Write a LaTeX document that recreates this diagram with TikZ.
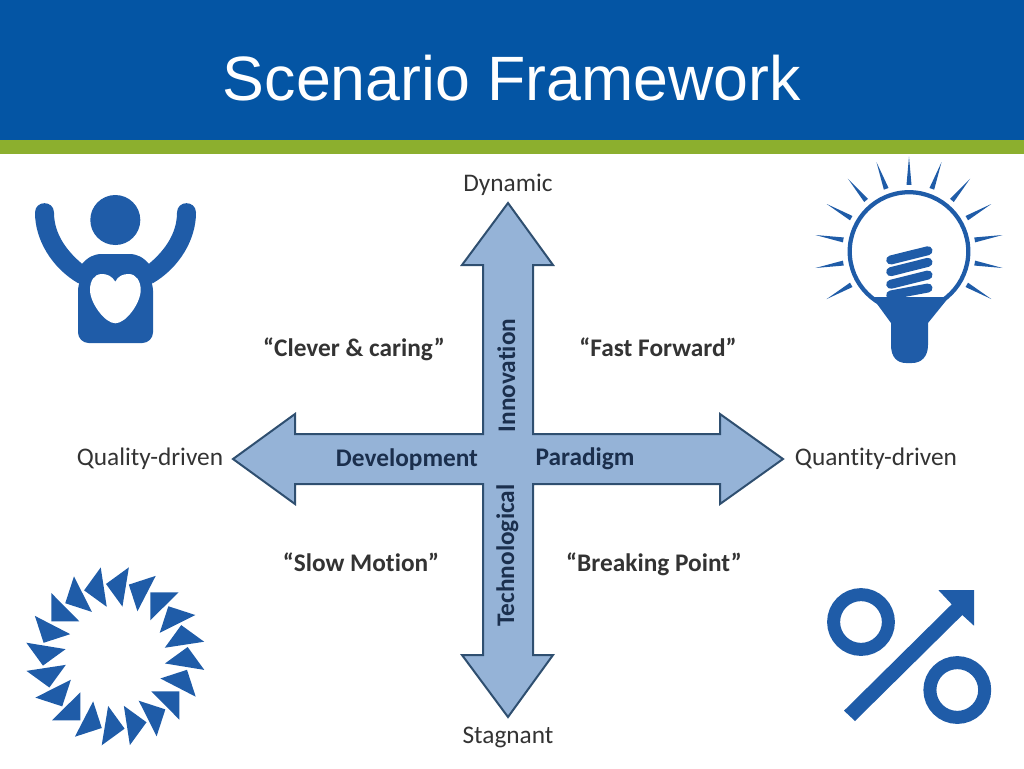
\documentclass[tikz,border=0pt]{standalone}
\usepackage{fontspec}
\setmainfont{Carlito}[Ligatures=NoCommon]
\newfontfamily\titlefont{Liberation Sans}
\definecolor{bannerblue}{HTML}{0455A4}
\definecolor{bannergreen}{HTML}{8CAF2E}
\definecolor{iconblue}{HTML}{1F5CA8}
\definecolor{crossfill}{HTML}{95B3D7}
\definecolor{crossline}{HTML}{2F4F70}
\definecolor{crosstext}{HTML}{1B2F4D}
\definecolor{labeltext}{HTML}{333333}

\begin{document}
\begin{tikzpicture}[
  x=0.75pt,
  y=-0.75pt,
  title/.style={
    font=\titlefont\fontsize{47}{56}\selectfont,
    text=white
  },
  icon/.style={fill=iconblue},
  ring/.style={
    draw=iconblue,
    line width=9.75pt
  },
  coil/.style={
    draw=iconblue,
    line width=6.75pt,
    line cap=round
  },
  cross/.style={
    draw=crossline,
    line width=1.5pt,
    fill=crossfill
  },
  pole/.style={
    anchor=base,
    inner sep=0pt,
    font=\fontsize{19}{23}\selectfont,
    text=labeltext
  },
  scenario/.style={
    anchor=base,
    inner sep=0pt,
    font=\bfseries\fontsize{19}{23}\selectfont,
    text=labeltext
  },
  axislabel/.style={
    anchor=base,
    inner sep=0pt,
    font=\bfseries\fontsize{19}{23}\selectfont,
    text=crosstext
  }
]

\useasboundingbox (0,0) rectangle (1024,768);

\fill[bannerblue] (0,0) rectangle (1024,140);
\fill[bannergreen] (0,140) rectangle (1024,154);
\node[title] (heading) at (512,78) {Scenario Framework};

\draw[cross] (508,203) -- (553,265) -- (533,265) -- (533,434) -- (720,434)
  -- (720,414) -- (783,459) -- (720,504) -- (720,484) -- (533,484)
  -- (533,655) -- (553,655) -- (508,717) -- (462,655) -- (483,655)
  -- (483,484) -- (295,484) -- (295,504) -- (233,459) -- (295,414)
  -- (295,434) -- (483,434) -- (483,265) -- (462,265) -- cycle;

\node[pole] (dynamic) at (508,191) {Dynamic};
\node[pole] (stagnant) at (508,743) {Stagnant};
\node[pole] (quality) at (150,465) {Quality-driven};
\node[pole] (quantity) at (876,465) {Quantity-driven};

\node[scenario] (clever) at (354,356) {“Clever \& caring”};
\node[scenario] (fast) at (658,356) {“Fast Forward”};
\node[scenario] (slow) at (361,571) {“Slow Motion”};
\node[scenario] (breaking) at (654,571) {“Breaking Point”};

\node[axislabel] (development) at (407,466) {Development};
\node[axislabel] (paradigm) at (585,465) {Paradigm};
\node[axislabel, rotate=90] (innovation) at (515,375.5) {Innovation};
\node[axislabel, rotate=90] (technological) at (514,555.5) {Technological};

\fill[icon] (115.3,220) circle (25);
\fill[icon] (35,212.7) .. controls (35,240) and (52,268) .. (78.3,283.3) -- (85,275)
  -- (82.3,264) .. controls (68,252) and (54,235) .. (54,212.7)
  .. controls (54,200) and (35,200) .. (35,212.7) -- cycle;
\fill[icon] (196,212.7) .. controls (196,240) and (179,268) .. (152.7,283.3) -- (146,275)
  -- (148.7,264) .. controls (163,252) and (177,235) .. (177,212.7)
  .. controls (177,200) and (196,200) .. (196,212.7) -- cycle;
\fill[icon] (82,264) .. controls (88,257) and (94,254) .. (102,254) -- (129,254)
  .. controls (137,254) and (143,257) .. (149,264) -- (153,290) -- (78,290) -- cycle;
\fill[icon, rounded corners=8pt] (78,280) -- (78,343) -- (153,343) -- (153,280) -- cycle;
\fill[white] (115.3,281.7) .. controls (112,276) and (107,274) .. (102,274)
  .. controls (94,274) and (90,281) .. (90,290)
  .. controls (90,303) and (105,323.3) .. (115.3,323.3)
  .. controls (126,323.3) and (140.7,303) .. (140.7,290)
  .. controls (140.7,281) and (136,274) .. (128.7,274)
  .. controls (123,274) and (118,276) .. (115.3,281.7) -- cycle;

\draw[iconblue, line width=3.2pt] (909,251.5) circle (59.3);
\foreach \a in {90,70,50,30,10,-10,-30,110,130,150,170,190,210}
  \fill[icon, shift={(909,251.5)}, rotate=\a] (95,0) -- (66.7,2.5) -- (66.7,-2.5) -- cycle;
\draw[coil] (890.7,260) -- (928,250.7);
\draw[coil] (890.7,271.7) -- (928,262.3);
\draw[coil] (890.7,284.3) -- (928,275);
\draw[coil] (890.7,295) -- (928,288);
\fill[icon] (872,297) -- (949,297) -- (928,323) -- (928,345)
  .. controls (928,357) and (921,363) .. (912,363) -- (906,363)
  .. controls (897,363) and (891,357) .. (891,345) -- (891,323) -- cycle;

\foreach \a in {0,18,...,342}
  \fill[icon, shift={(115.3,656.3)}, rotate=\a] (63.3,-64) -- (35,-64) -- (35,-36) -- cycle;

\draw[ring] (861,622) circle (27.4);
\draw[ring] (957.3,690) circle (27.4);
\fill[icon] (844,710.7) -- (951.7,604.3) -- (938.3,590) -- (974,590) -- (974,625.7)
  -- (962.3,615) -- (855,721) -- cycle;

\end{tikzpicture}
\end{document}
